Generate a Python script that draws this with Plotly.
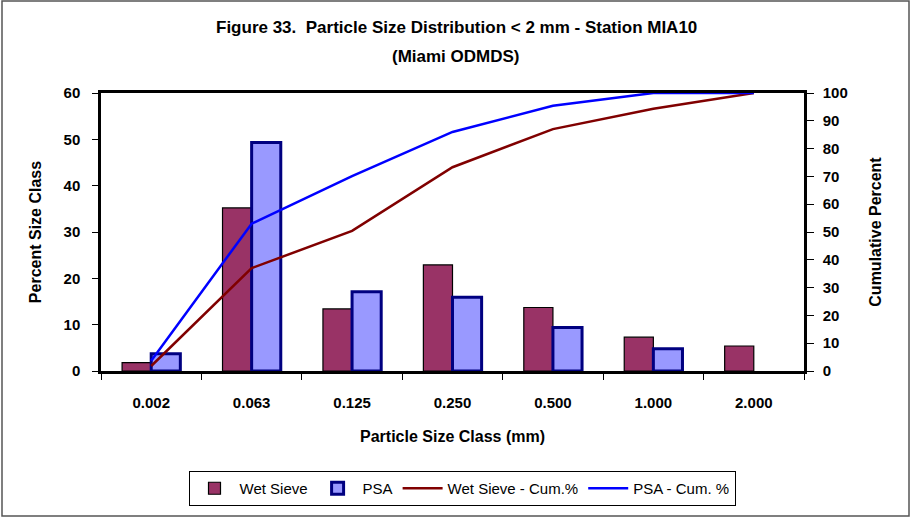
import plotly.graph_objects as go

categories = ["0.002", "0.063", "0.125", "0.250", "0.500", "1.000", "2.000"]
wet_sieve = [1.8, 35.2, 13.4, 22.9, 13.7, 7.3, 5.4]
psa = [3.7, 49.3, 17.1, 15.9, 9.4, 4.8, None]
wet_cum = [1.8, 37.0, 50.4, 73.3, 87.0, 94.3, 100.0]
psa_cum = [3.7, 53.0, 70.1, 86.0, 95.4, 100.0, 100.0]
left_ticks = [0, 10, 20, 30, 40, 50, 60]
right_ticks = [0, 10, 20, 30, 40, 50, 60, 70, 80, 90, 100]

FONT = "Arial, Liberation Sans, sans-serif"

fig = go.Figure()
fig.add_trace(go.Bar(x=categories, y=wet_sieve, name="Wet Sieve",
                     marker=dict(color="#993366", line=dict(color="#000000", width=1.2))))
fig.add_trace(go.Bar(x=categories, y=psa, name="PSA",
                     marker=dict(color="#9999FF", line=dict(color="#000080", width=3))))
fig.add_trace(go.Scatter(x=categories, y=wet_cum, name="Wet Sieve - Cum.%", yaxis="y2",
                         mode="lines", line=dict(color="#800000", width=2.5)))
fig.add_trace(go.Scatter(x=categories, y=psa_cum, name="PSA - Cum. %", yaxis="y2",
                         mode="lines", line=dict(color="#0000FF", width=2.5)))

W, H = 912, 518
L, R, T, B = 101, 108, 93, 147
pw, ph = W - L - R, H - T - B

def px_x(x):
    return (x - L) / pw

def px_y(y):
    return (H - B - y) / ph

fig.update_layout(
    width=W, height=H,
    margin=dict(l=L, r=R, t=T, b=B),
    paper_bgcolor="white", plot_bgcolor="white",
    font=dict(family=FONT, color="black"),
    barmode="group", bargap=0.42, bargroupgap=0,
    showlegend=True,
    legend=dict(orientation="h", x=px_x(462), xanchor="center", y=px_y(471), yanchor="top",
                bordercolor="black", borderwidth=1, bgcolor="white",
                font=dict(size=15, family=FONT), itemwidth=40,
                traceorder="normal"),
    xaxis=dict(type="category", showline=True, linecolor="black", linewidth=2.5, mirror=True,
               ticks="outside", ticklen=6, tickcolor="black", tickson="boundaries",
               tickfont=dict(size=15, family=FONT, weight="bold"), ticklabelstandoff=16,
               title=dict(text="Particle Size Class (mm)", font=dict(size=16, family=FONT, weight="bold"),
                          standoff=22),
               showgrid=False, zeroline=False),
    yaxis=dict(range=[0, 60], tickvals=left_ticks, showline=True, linecolor="black", linewidth=2.5,
               mirror=True, ticks="outside", ticklen=6, tickcolor="black",
               tickfont=dict(size=15, family=FONT, weight="bold"), ticklabelstandoff=9,
               title=dict(text="Percent Size Class", font=dict(size=16, family=FONT, weight="bold"),
                          standoff=18),
               showgrid=False, zeroline=False),
    yaxis2=dict(range=[0, 100], tickvals=right_ticks, overlaying="y", side="right",
                showline=True, linecolor="black", linewidth=2.5, ticks="outside", ticklen=7,
                tickcolor="black", tickfont=dict(size=15, family=FONT, weight="bold"),
                ticklabelstandoff=6,
                title=dict(text="Cumulative Percent", font=dict(size=16, family=FONT, weight="bold"),
                           standoff=24),
                showgrid=False, zeroline=False),
    annotations=[
        dict(text="Figure 33.  Particle Size Distribution < 2 mm - Station MIA10",
             xref="paper", yref="paper", x=px_x(456), y=px_y(28), xanchor="center", yanchor="middle",
             showarrow=False, font=dict(size=17, family=FONT, weight="bold")),
        dict(text="(Miami ODMDS)",
             xref="paper", yref="paper", x=px_x(456), y=px_y(57), xanchor="center", yanchor="middle",
             showarrow=False, font=dict(size=17, family=FONT, weight="bold")),
    ],
    shapes=[
        dict(type="rect", xref="paper", yref="paper", x0=px_x(2), x1=px_x(909), y0=px_y(516), y1=px_y(1),
             line=dict(color="#555555", width=1.5), fillcolor="rgba(0,0,0,0)", layer="below"),
    ],
)

fig.write_html("out.html", config={"displayModeBar": False},
               post_script="document.body.style.margin='0';document.body.style.overflow='hidden';")
